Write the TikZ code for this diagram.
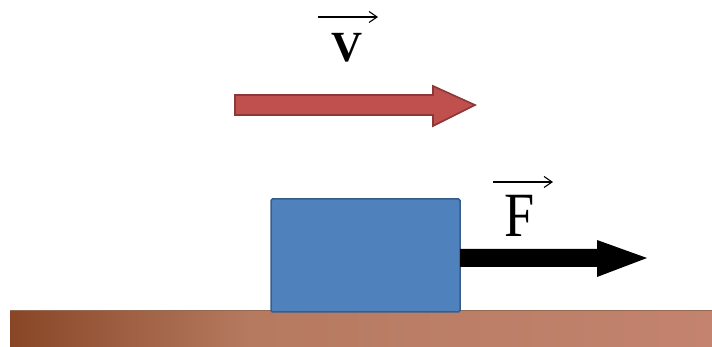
\documentclass[tikz,border=0pt]{standalone}
\usepackage{fontspec}
\setmainfont{Liberation Serif}
\usetikzlibrary{arrows.meta}
\definecolor{redfill}{RGB}{192,80,77}
\definecolor{redline}{RGB}{140,56,54}
\definecolor{bluefill}{RGB}{79,129,189}
\definecolor{blueline}{RGB}{56,93,138}
\definecolor{groundA}{RGB}{136,70,38}
\definecolor{groundB}{RGB}{182,122,96}
\definecolor{groundC}{RGB}{195,131,111}
\definecolor{groundEdge}{RGB}{150,105,85}
\tikzset{
  vecbar/.style={line width=1.1pt, -{Straight Barb[length=8pt,width=11pt,line width=1.1pt]}},
  bigarrow/.style={line width=1.6pt, line join=miter},
  lbl/.style={anchor=base, inner sep=0pt}
}
\begin{document}
\begin{tikzpicture}[x=1pt,y=1pt]
\useasboundingbox (0,0) rectangle (712,347);
% ground
\shade[left color=groundA, right color=groundB] (10,0) rectangle (250,36);
\shade[left color=groundB, right color=groundC] (250,0) rectangle (712,36);
\draw[groundEdge, line width=1pt] (10,36) -- (712,36);
% block
\node[draw=blueline, fill=bluefill, line width=1.5pt, rounded corners=1.5pt,
      minimum width=189pt, minimum height=113pt, inner sep=0pt] (block) at (365.5,91.5) {};
% force arrow
\fill[black] (460,98) -- (597,98) -- (597,107) -- (647,89) -- (597,70) -- (597,80) -- (460,80) -- cycle;
% velocity arrow
\draw[bigarrow, draw=redline, fill=redfill] (235,252) -- (433,252) -- (433,261) -- (475,242) -- (433,221) -- (433,232) -- (235,232) -- cycle;
% labels
\node[lbl] (vlab) at (347.5,285) {\fontsize{43}{43}\selectfont\bfseries V};
\coordinate (va) at (318,330);
\coordinate (vb) at (378,330);
\draw[vecbar] (va) -- (vb);
\node[lbl] (flab) at (519.5,110) {\fontsize{63}{63}\selectfont\scalebox{0.86}[1]{F}};
\coordinate (fa) at (493,165);
\coordinate (fb) at (553,165);
\draw[vecbar] (fa) -- (fb);
\end{tikzpicture}
\end{document}
